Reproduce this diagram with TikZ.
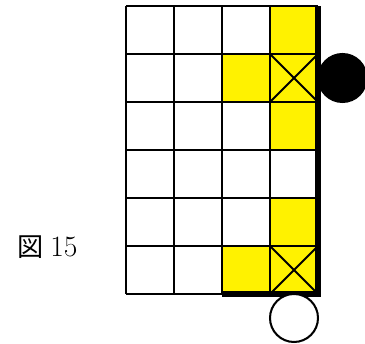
\documentclass[tikz,border=0pt]{standalone}
\usepackage{fontspec}
\newfontfamily\cjk{Noto Sans CJK JP}
\usetikzlibrary{positioning}
\tikzset{
  hit/.style={fill=yellow},
  gridline/.style={draw=black, line width=1.2pt},
  edge/.style={draw=black, line width=3.6pt, line join=miter},
  ball/.style={circle, draw=black, line width=1.2pt, minimum size=1cm, inner sep=0pt},
  caption/.style={inner sep=0pt}
}
\begin{document}
\begin{tikzpicture}
  \useasboundingbox (-2.625,-1.021) rectangle (4.979,6.125);
  % yellow cells (column/row, counted from bottom left)
  \foreach \c/\r in {3/5,2/4,3/4,3/3,3/1,2/0,3/0}
    \fill[hit] (\c,\r) rectangle ++(1,1);
  % board
  \draw[gridline] (0,0) grid (4,6);
  % crossed cells
  \foreach \r in {4,0}
    \draw[gridline] (3,\r) -- ++(1,1) (3,\r+1) -- ++(1,-1);
  % walls
  \draw[edge] (2,0) -- (4,0) -- (4,6);
  % balls
  \node[ball, fill=black] (blackball) at (4.51,4.5) {};
  \node[ball, fill=white] (whiteball) at (3.5,-0.5) {};
  % figure number
  \node[caption] (fignum) at (-1.635,0.98)
    {{\cjk\fontsize{15.5}{18}\selectfont 図}\hspace{4pt}{\fontsize{17.5}{20}\selectfont 15}};
\end{tikzpicture}
\end{document}
